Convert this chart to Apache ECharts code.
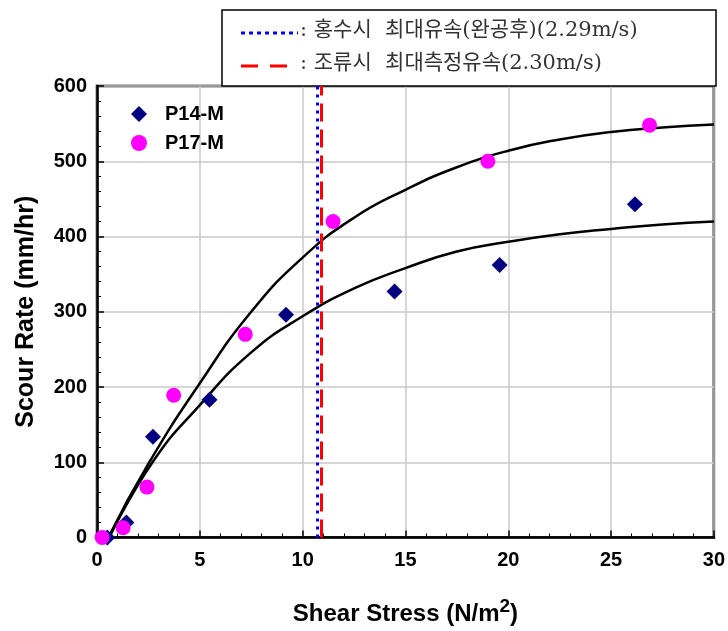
<!DOCTYPE html>
<html>
<head>
<meta charset="utf-8">
<script src="https://cdn.jsdelivr.net/npm/echarts@6/dist/echarts.min.js"></script>
<style>
  html, body { margin: 0; padding: 0; background: #fff; }
  #chart { width: 728px; height: 631px; }
</style>
</head>
<body>
<div id="chart"></div>
<script>
// 측정 자료
const p14X = [0.5, 1.43, 2.72, 5.47, 9.19, 14.47, 19.58, 26.16];
const p14Y = [0, 20, 134, 183, 296, 327, 362, 443];
const p17X = [0.25, 1.27, 2.43, 3.73, 7.21, 11.48, 19.01, 26.87];
const p17Y = [0, 13, 67, 189, 270, 420, 500, 548];

// 추세선 (그림에서 읽은 점)
const upperX = [0.55, 2.5, 5, 7.5, 10, 12.5, 15, 17.5, 20, 22.5, 25, 27.5, 30];
const upperY = [0, 98, 205, 300, 372, 425, 462, 492, 514, 529, 539, 545, 549];
const lowerX = [0.6, 2.7, 5, 7.5, 10, 12.5, 15, 17.5, 20, 22.5, 25, 27.5, 30];
const lowerY = [0, 100, 176, 246, 294, 331, 358, 380, 393, 403, 410, 416, 420];

// 기준 유속선
const refLineX = [10.7, 10.9];
const refLabels = [": 홍수시  최대유속(완공후)(2.29m/s)", ": 조류시  최대측정유속(2.30m/s)"];

const xTicks = [0, 30, 5];
const yTicks = [0, 600, 100];

const zip = (xs, ys) => xs.map((x, i) => [x, ys[i]]);

let chart = echarts.init(document.getElementById("chart"));

const arial = "Arial, 'Liberation Sans', sans-serif";
const krFont = "'DejaVu Serif', 'Noto Sans CJK KR', serif";

let axisFont = {
  color: "#000",
  fontFamily: arial,
  fontWeight: "bold",
  fontSize: 20,
};

let options = {
  animation: false,
  grid: {
    left: 97,
    right: 11,
    top: 86,
    bottom: 89,
    show: true,
    borderColor: "#000",
    borderWidth: 2.5,
  },
  legend: {
    orient: "vertical",
    left: 126,
    top: 99,
    itemWidth: 16,
    itemHeight: 16,
    itemGap: 9,
    data: ["P14-M", "P17-M"],
    textStyle: {
      color: "#000",
      fontFamily: arial,
      fontWeight: "bold",
      fontSize: 20,
      padding: [0, 0, 0, 13],
    },
  },
  graphic: [
    {
      type: "rect",
      shape: { x: 222, y: 10, width: 494, height: 76 },
      style: { fill: "#fff", stroke: "#000", lineWidth: 1.5 },
      z: 1,
    },
    {
      type: "line",
      shape: { x1: 241, y1: 33, x2: 298, y2: 33 },
      style: { stroke: "#0000ff", lineWidth: 3, lineDash: [4, 4] },
      z: 2,
    },
    {
      type: "line",
      shape: { x1: 241, y1: 66, x2: 298, y2: 66 },
      style: { stroke: "#ff0000", lineWidth: 3, lineDash: [17, 12] },
      z: 2,
    },
    {
      type: "text",
      left: 300,
      top: 20,
      style: { text: refLabels[0], fill: "#333", fontFamily: krFont, fontSize: 21 },
      z: 2,
    },
    {
      type: "text",
      left: 300,
      top: 53,
      style: { text: refLabels[1], fill: "#333", fontFamily: krFont, fontSize: 21 },
      z: 2,
    },
  ],
  xAxis: {
    type: "value",
    min: xTicks[0],
    max: xTicks[1],
    interval: xTicks[2],
    name: "{a|Shear Stress (N/m}{s|2}{a|)}",
    nameLocation: "middle",
    nameGap: 60,
    nameTextStyle: {
      rich: {
        a: { fontFamily: arial, fontWeight: "bold", fontSize: 24, color: "#000" },
        s: { fontFamily: arial, fontWeight: "bold", fontSize: 19, color: "#000", padding: [0, 0, 14, 0] },
      },
    },
    axisLine: { lineStyle: { color: "#000", width: 2.5 } },
    axisTick: { inside: true, length: 7, lineStyle: { color: "#000", width: 1.5 } },
    minorTick: { show: true, splitNumber: 5, length: 4, lineStyle: { color: "#000", width: 1 } },
    axisLabel: Object.assign({ margin: 13 }, axisFont),
    splitLine: { show: true, lineStyle: { color: "#c8c8c8", width: 1.5 } },
  },
  yAxis: {
    type: "value",
    min: yTicks[0],
    max: yTicks[1],
    interval: yTicks[2],
    name: "Scour Rate (mm/hr)",
    nameLocation: "middle",
    nameGap: 58,
    nameTextStyle: { fontFamily: arial, fontWeight: "bold", fontSize: 25, color: "#000" },
    axisLine: { lineStyle: { color: "#000", width: 2.5 } },
    axisTick: { inside: true, length: 7, lineStyle: { color: "#000", width: 1.5 } },
    minorTick: { show: true, splitNumber: 5, length: 4, lineStyle: { color: "#000", width: 1 } },
    axisLabel: Object.assign({ margin: 10 }, axisFont),
    splitLine: { show: true, lineStyle: { color: "#c8c8c8", width: 1.5 } },
  },
  series: [
    {
      name: "upper",
      type: "line",
      data: zip(upperX, upperY),
      smooth: 0.5,
      showSymbol: false,
      lineStyle: { color: "#000", width: 2.5 },
      silent: true,
      z: 3,
    },
    {
      name: "lower",
      type: "line",
      data: zip(lowerX, lowerY),
      smooth: 0.5,
      showSymbol: false,
      lineStyle: { color: "#000", width: 2.5 },
      silent: true,
      z: 3,
    },
    {
      name: "P14-M",
      type: "scatter",
      symbol: "diamond",
      symbolSize: 16,
      itemStyle: { color: "#000080", opacity: 1 },
      data: zip(p14X, p14Y),
      z: 4,
      markLine: {
        silent: true,
        symbol: "none",
        label: { show: false },
        data: [
          { xAxis: refLineX[0], lineStyle: { color: "#0000ff", width: 3, type: [3, 5] } },
          { xAxis: refLineX[1], lineStyle: { color: "#ff0000", width: 3, type: [18, 8] } },
        ],
      },
    },
    {
      name: "P17-M",
      type: "scatter",
      symbol: "circle",
      symbolSize: 15,
      itemStyle: { color: "#ff00ff", opacity: 1 },
      data: zip(p17X, p17Y),
      z: 4,
    },
  ],
};

chart.setOption(options);
</script>
</body>
</html>
